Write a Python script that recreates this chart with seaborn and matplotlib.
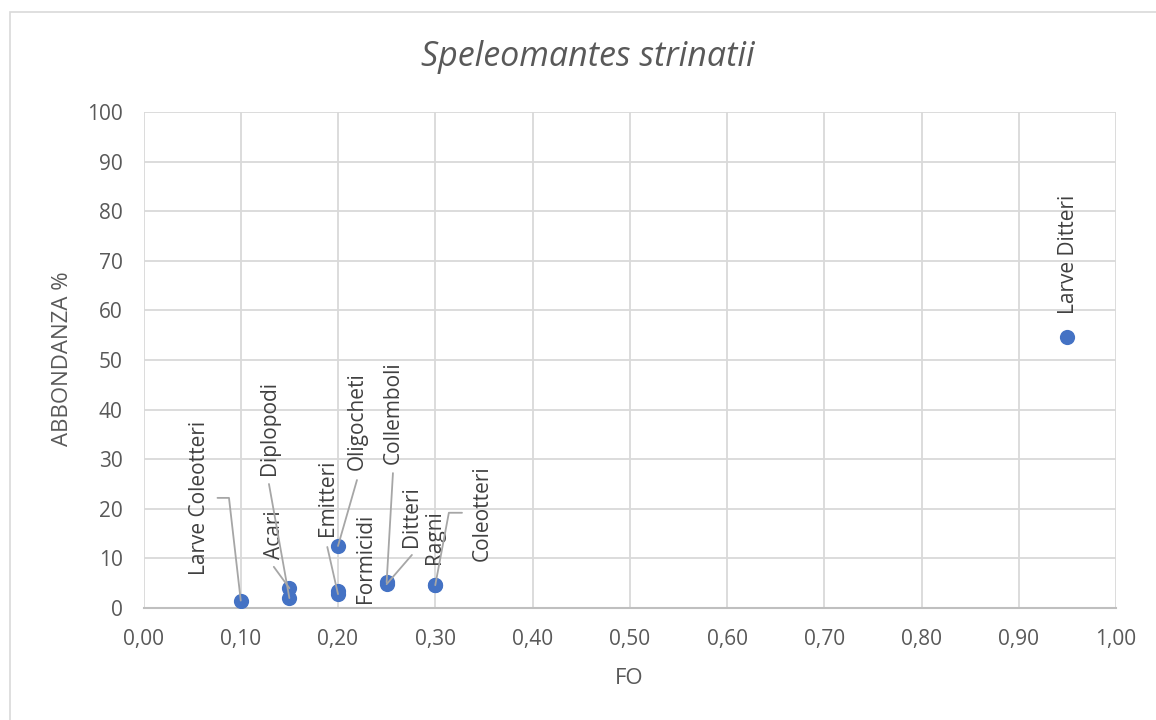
import matplotlib
matplotlib.use("Agg")
import matplotlib.pyplot as plt
import seaborn as sns
import pandas as pd
from matplotlib.ticker import FuncFormatter
from matplotlib.patches import Rectangle

# ---- data ----
categories = ["Larve Coleotteri", "Acari", "Diplopodi", "Emitteri", "Formicidi",
              "Oligocheti", "Collemboli", "Ditteri", "Ragni", "Coleotteri", "Larve Ditteri"]
fo_values = [0.10, 0.15, 0.15, 0.20, 0.20, 0.20, 0.25, 0.25, 0.30, 0.30, 0.95]
abbondanza_values = [1.5, 4.0, 2.0, 2.8, 3.5, 12.5, 5.2, 4.8, 4.6, 4.6, 54.6]
x_ticks = [0.0, 0.1, 0.2, 0.3, 0.4, 0.5, 0.6, 0.7, 0.8, 0.9, 1.0]
y_ticks = [0, 10, 20, 30, 40, 50, 60, 70, 80, 90, 100]

df = pd.DataFrame({"categoria": categories, "FO": fo_values, "ABB": abbondanza_values})

# ---- label layout (label centre in data coords, leader-line bend points) ----
label_layout = {
    "Larve Coleotteri": ((0.058, 22.2), [(0.0761, 22.2), (0.0879, 22.2)]),
    "Diplopodi": ((0.130, 36.3), [(0.129, 25.0)]),
    "Acari": ((0.135, 14.7), [(0.134, 8.3)]),
    "Emitteri": ((0.189, 22.2), [(0.189, 12.3)]),
    "Oligocheti": ((0.2195, 37.7), [(0.2195, 25.8)]),
    "Formicidi": ((0.228, 10.1), []),
    "Collemboli": ((0.2565, 39.3), [(0.2565, 27.2)]),
    "Ditteri": ((0.276, 18.5), [(0.276, 10.7)]),
    "Ragni": ((0.2997, 14.3), []),
    "Coleotteri": ((0.348, 19.2), [(0.3275, 19.2), (0.314, 19.2)]),
    "Larve Ditteri": ((0.951, 71.2), []),
}

sns.set_theme(style="white")
plt.rcParams["font.family"] = ["Open Sans", "DejaVu Sans"]

TEXT = "#595959"
GRID = "#D9D9D9"
BLUE = "#4472C4"
LEADER = "#A6A6A6"

fig = plt.figure(figsize=(11.56, 7.2), dpi=100)
ax = fig.add_axes([143.5 / 1156, (720 - 608) / 720, (1116 - 143.5) / 1156, (608 - 112) / 720])

# outer chart border
fig.patches.append(Rectangle((10 / 1156, -0.1), 1.2, (720 - 12) / 720 + 0.1,
                             transform=fig.transFigure, fill=False,
                             edgecolor="#D9D9D9", linewidth=1.2, zorder=0))

sns.scatterplot(data=df, x="FO", y="ABB", ax=ax, color=BLUE, s=120,
                edgecolor=BLUE, linewidth=0, zorder=5, legend=False)

ax.set_xlim(0, 1.0)
ax.set_ylim(0, 100)
ax.set_xticks(x_ticks)
ax.set_yticks(y_ticks)
ax.xaxis.set_major_formatter(FuncFormatter(lambda v, p: f"{v:.2f}".replace(".", ",")))
ax.yaxis.set_major_formatter(FuncFormatter(lambda v, p: f"{int(round(v))}"))
ax.grid(True, color=GRID, linewidth=1.3)
ax.set_axisbelow(True)
for s in ["top", "right", "left"]:
    ax.spines[s].set_visible(False)
ax.spines["bottom"].set_color("#BFBFBF")
ax.spines["bottom"].set_linewidth(1.5)
ax.spines["bottom"].set_zorder(3)
ax.tick_params(axis="both", length=0, labelsize=15, labelcolor=TEXT)
ax.tick_params(axis="x", pad=15)
ax.tick_params(axis="y", pad=15)

ax.set_xlabel("FO", fontsize=16, color=TEXT)
ax.set_ylabel("ABBONDANZA %", fontsize=16, color=TEXT)
ax.xaxis.set_label_coords((629 - 143.5) / (1116 - 143.5), -(678 - 608) / (608 - 112))
ax.yaxis.set_label_coords(-(143.5 - 62) / (1116 - 143.5), (608 - 359) / (608 - 112))
ax.xaxis.label.set_va("center")
ax.yaxis.label.set_va("center")

fig.text(588 / 1156, 1 - 57 / 720, "Speleomantes strinatii", fontsize=24.5, style="italic",
         color=TEXT, ha="center", va="center")

# data labels with leader lines
for cat, fx, ay in zip(categories, fo_values, abbondanza_values):
    (lx, ly), bends = label_layout[cat]
    ax.text(lx, ly, cat, rotation=90, ha="center", va="center", fontsize=15,
            color="#404040", zorder=6)
    if bends:
        xs = [b[0] for b in bends] + [fx]
        ys = [b[1] for b in bends] + [ay]
        ax.plot(xs, ys, color=LEADER, linewidth=1.3, zorder=6)

fig.savefig("out.png", dpi=100)
